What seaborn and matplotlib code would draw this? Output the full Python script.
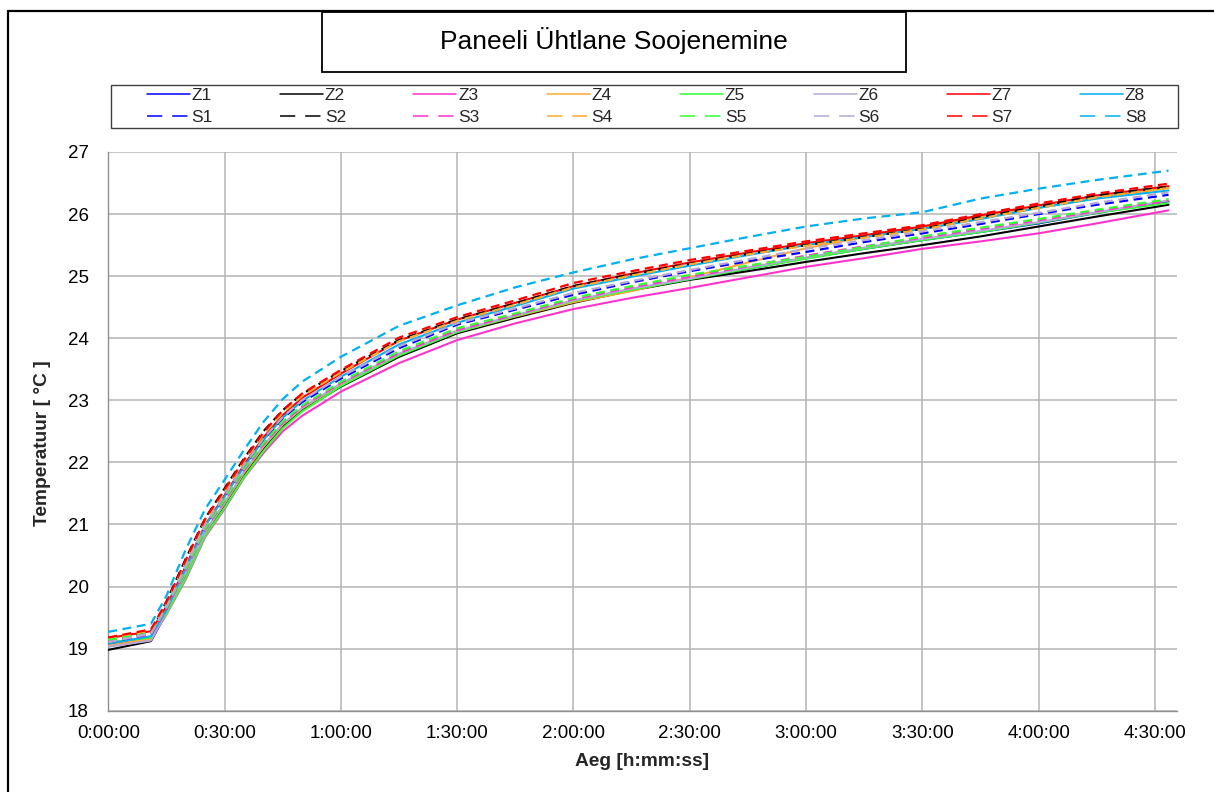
import numpy as np
import pandas as pd
import matplotlib
matplotlib.use("Agg")
import matplotlib.pyplot as plt
import seaborn as sns
from matplotlib.lines import Line2D
from matplotlib.patches import Rectangle
from matplotlib.ticker import FuncFormatter, MultipleLocator

# ---------------- data (time in minutes, temperature in degC) ----------------
time_min = [0, 11, 15, 20, 25, 30, 35, 40, 45, 50, 60, 75, 90, 105, 120, 135, 150, 165, 180, 195, 210, 225, 240, 255, 273.5]

Z1 = [19.06, 19.16, 19.60, 20.22, 20.88, 21.33, 21.82, 22.24, 22.60, 22.86, 23.25, 23.73, 24.10, 24.36, 24.60, 24.79, 24.95, 25.12, 25.29, 25.44, 25.58, 25.71, 25.85, 26.02, 26.20]
Z2 = [18.98, 19.12, 19.58, 20.18, 20.85, 21.30, 21.80, 22.22, 22.58, 22.84, 23.22, 23.70, 24.08, 24.33, 24.57, 24.77, 24.94, 25.08, 25.23, 25.37, 25.50, 25.64, 25.80, 25.96, 26.15]
Z3 = [19.05, 19.15, 19.55, 20.12, 20.80, 21.25, 21.75, 22.15, 22.50, 22.75, 23.14, 23.60, 23.97, 24.24, 24.47, 24.65, 24.81, 24.98, 25.15, 25.29, 25.44, 25.56, 25.69, 25.85, 26.06]
Z4 = [19.05, 19.16, 19.60, 20.22, 20.88, 21.34, 21.83, 22.25, 22.61, 22.87, 23.26, 23.74, 24.10, 24.35, 24.58, 24.76, 24.98, 25.22, 25.45, 25.63, 25.78, 25.95, 26.10, 26.26, 26.42]
Z5 = [19.10, 19.18, 19.56, 20.14, 20.82, 21.27, 21.76, 22.18, 22.55, 22.82, 23.23, 23.72, 24.10, 24.36, 24.60, 24.78, 24.95, 25.12, 25.28, 25.44, 25.58, 25.71, 25.86, 26.02, 26.18]
Z6 = [19.03, 19.13, 19.60, 20.22, 20.88, 21.35, 21.85, 22.27, 22.62, 22.88, 23.27, 23.75, 24.12, 24.37, 24.61, 24.80, 24.96, 25.14, 25.30, 25.46, 25.60, 25.73, 25.87, 26.03, 26.22]
Z7 = [19.17, 19.28, 19.68, 20.33, 20.99, 21.47, 21.96, 22.40, 22.76, 23.04, 23.43, 23.96, 24.30, 24.57, 24.84, 25.04, 25.22, 25.38, 25.53, 25.66, 25.80, 25.98, 26.14, 26.30, 26.45]
Z8 = [19.08, 19.20, 19.62, 20.30, 20.98, 21.45, 21.93, 22.36, 22.72, 22.99, 23.38, 23.90, 24.25, 24.52, 24.80, 24.99, 25.17, 25.34, 25.50, 25.63, 25.76, 25.92, 26.10, 26.25, 26.38]

S1 = [19.10, 19.24, 19.68, 20.32, 20.98, 21.44, 21.93, 22.36, 22.71, 22.97, 23.35, 23.84, 24.22, 24.46, 24.70, 24.90, 25.08, 25.24, 25.39, 25.55, 25.69, 25.84, 26.00, 26.15, 26.31]
S2 = [19.12, 19.28, 19.76, 20.45, 21.10, 21.58, 22.06, 22.50, 22.84, 23.10, 23.47, 23.97, 24.30, 24.56, 24.84, 25.03, 25.20, 25.36, 25.50, 25.63, 25.76, 25.95, 26.12, 26.30, 26.44]
S3 = [19.12, 19.23, 19.64, 20.26, 20.92, 21.38, 21.87, 22.29, 22.64, 22.90, 23.28, 23.76, 24.13, 24.38, 24.63, 24.82, 24.99, 25.16, 25.33, 25.48, 25.62, 25.76, 25.90, 26.05, 26.21]
S4 = [19.15, 19.29, 19.73, 20.40, 21.06, 21.53, 22.02, 22.45, 22.80, 23.07, 23.45, 23.95, 24.28, 24.54, 24.82, 25.01, 25.19, 25.35, 25.49, 25.62, 25.75, 25.93, 26.10, 26.27, 26.42]
S5 = [19.14, 19.25, 19.66, 20.28, 20.94, 21.40, 21.89, 22.31, 22.66, 22.92, 23.30, 23.79, 24.16, 24.40, 24.65, 24.84, 25.02, 25.17, 25.31, 25.47, 25.64, 25.78, 25.92, 26.07, 26.24]
S6 = [19.10, 19.25, 19.69, 20.34, 21.00, 21.46, 21.95, 22.38, 22.73, 23.00, 23.38, 23.87, 24.24, 24.48, 24.73, 24.92, 25.10, 25.27, 25.44, 25.58, 25.72, 25.87, 26.02, 26.18, 26.35]
S7 = [19.18, 19.31, 19.75, 20.43, 21.09, 21.56, 22.04, 22.48, 22.84, 23.11, 23.49, 24.01, 24.34, 24.61, 24.89, 25.08, 25.26, 25.41, 25.56, 25.69, 25.82, 26.00, 26.17, 26.33, 26.49]
S8 = [19.27, 19.40, 19.85, 20.60, 21.25, 21.72, 22.20, 22.65, 23.02, 23.30, 23.70, 24.20, 24.53, 24.82, 25.06, 25.27, 25.45, 25.63, 25.80, 25.93, 26.03, 26.25, 26.41, 26.55, 26.70]

z_names = ["Z1", "Z2", "Z3", "Z4", "Z5", "Z6", "Z7", "Z8"]
s_names = ["S1", "S2", "S3", "S4", "S5", "S6", "S7", "S8"]
z_series = [Z1, Z2, Z3, Z4, Z5, Z6, Z7, Z8]
s_series = [S1, S2, S3, S4, S5, S6, S7, S8]
colors = ["#0000FF", "#000000", "#FF33CC", "#FFAA33", "#33FF33", "#B4A7D6", "#FF0000", "#00B0F0"]

title = "Paneeli Ühtlane Soojenemine"
xlabel = "Aeg [h:mm:ss]"
ylabel = "Temperatuur [ °C ]"

# ---------------- figure ----------------
sns.set_theme(style="white")
plt.rcParams["font.family"] = ["Liberation Sans", "DejaVu Sans"]

W, H = 1214, 792
fig = plt.figure(figsize=(W / 100, H / 100), dpi=100)
fig.patch.set_facecolor("white")

def fx(px):
    return px / W

def fy(py):
    return 1 - py / H

ax_l, ax_r, ax_t, ax_b = 108.3, 1176.7, 152.0, 710.7
ax = fig.add_axes([fx(ax_l), fy(ax_b), fx(ax_r - ax_l), (ax_b - ax_t) / H])

df_rows = []
for name, vals in zip(z_names + s_names, z_series + s_series):
    for t, v in zip(time_min, vals):
        df_rows.append((name, t, v))
df = pd.DataFrame(df_rows, columns=["series", "t", "T"])

dash_plot = (0, (4, 2.5))
for name, col in zip(z_names, colors):
    d = df[df["series"] == name]
    sns.lineplot(data=d, x="t", y="T", color=col, linewidth=1.5, ax=ax, zorder=3)
for name, col in zip(s_names, colors):
    d = df[df["series"] == name]
    sns.lineplot(data=d, x="t", y="T", color=col, linewidth=1.6, linestyle=dash_plot, ax=ax, zorder=3)

ax.set_xlim(0, 275.6)
ax.set_ylim(18, 27)
ax.xaxis.set_major_locator(MultipleLocator(30))
ax.yaxis.set_major_locator(MultipleLocator(1))

def fmt_time(v, pos):
    total = int(round(v))
    h, m = divmod(total, 60)
    return f"{h}:{m:02d}:00"

ax.xaxis.set_major_formatter(FuncFormatter(fmt_time))
ax.grid(True, color="#b4b4b4", linewidth=1.1, zorder=0)
ax.set_axisbelow(True)
for s in ["top", "right"]:
    ax.spines[s].set_visible(False)
for s in ["left", "bottom"]:
    ax.spines[s].set_color("#909090")
    ax.spines[s].set_linewidth(1.0)
ax.tick_params(axis="both", which="major", direction="out", length=5, width=1,
               color="#909090", labelsize=13.5, labelcolor="black")
ax.tick_params(axis="y", pad=9)
ax.tick_params(axis="x", pad=5)
ax.set_xlabel(xlabel, fontsize=13.8, fontweight="bold", va="center")
ax.set_ylabel(ylabel, fontsize=13.8, fontweight="bold", va="center")
ax.xaxis.set_label_coords(0.5, (ax_b - 762) / (ax_b - ax_t))
ax.yaxis.set_label_coords((42 - ax_l) / (ax_r - ax_l), (ax_b - 443) / (ax_b - ax_t))

# outer chart border (left and top edges visible)
fig.add_artist(Line2D([fx(7.5), fx(7.5)], [fy(11), fy(800)], color="black", lw=1.6, transform=fig.transFigure))
fig.add_artist(Line2D([fx(7.5), fx(1230)], [fy(11), fy(11)], color="black", lw=1.6, transform=fig.transFigure))

# title box
fig.add_artist(Rectangle((fx(322), fy(71.5)), fx(906 - 322), (71.5 - 12) / H, fill=True,
                         facecolor="white", edgecolor="black", lw=1.3, transform=fig.transFigure))
fig.text(fx(614), fy(40), title, ha="center", va="center", fontsize=19, color="black")

# legend box
fig.add_artist(Rectangle((fx(110.5), fy(128)), fx(1178 - 110.5), (128 - 85) / H, fill=True,
                         facecolor="white", edgecolor="#404040", lw=1.0, transform=fig.transFigure))
handles, labels = [], []
for zn, sn, col in zip(z_names, s_names, colors):
    handles.append(Line2D([], [], color=col, lw=1.1))
    labels.append(zn)
    handles.append(Line2D([], [], color=col, lw=1.1, linestyle=(0, (10, 6.5))))
    labels.append(sn)
fs_leg = 12.5
em = fs_leg * 100 / 72
leg = fig.legend(handles, labels, ncol=8, loc="upper left",
                 bbox_to_anchor=(fx(146.5), fy(88)), frameon=False,
                 fontsize=fs_leg, handlelength=43 / em, handletextpad=0.1,
                 columnspacing=(133.3 - 43 - 0.1 * em - 21.2) / em,
                 labelspacing=0.38, borderpad=0, borderaxespad=0)

fig.savefig("out.png", dpi=100, facecolor="white")
